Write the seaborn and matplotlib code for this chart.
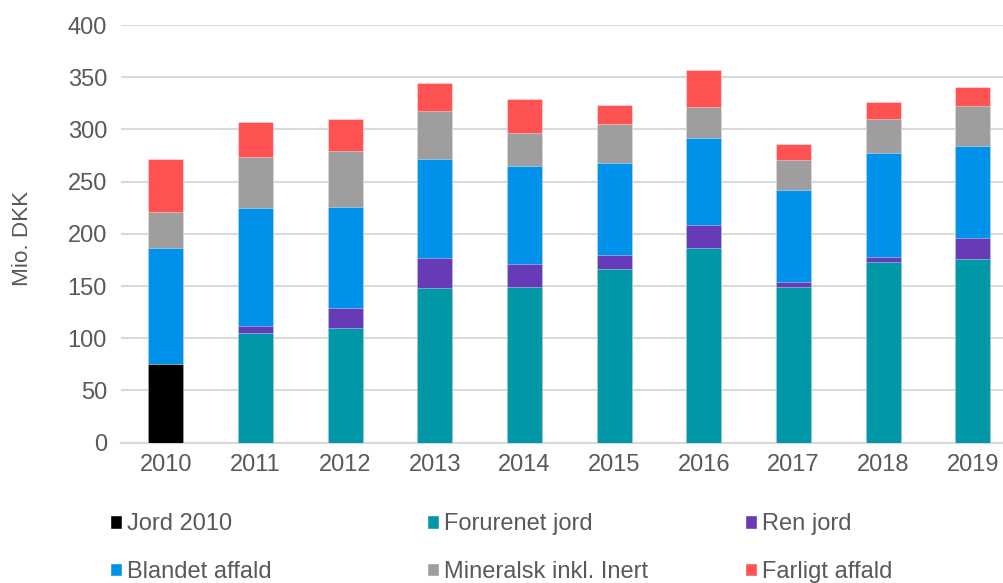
import numpy as np
import pandas as pd
import matplotlib
matplotlib.use("Agg")
import matplotlib.pyplot as plt
import seaborn as sns
from matplotlib.patches import Patch

# values (Mio. DKK)
years = ["2010", "2011", "2012", "2013", "2014", "2015", "2016", "2017", "2018", "2019"]
jord_2010 = [75, 0, 0, 0, 0, 0, 0, 0, 0, 0]
forurenet_jord = [0, 105, 110, 148.5, 149.5, 166.5, 186, 149, 173, 176]
ren_jord = [0, 7, 19, 28, 21.5, 13.5, 22, 5, 5, 20]
blandet_affald = [111, 113, 97, 95, 94, 87.5, 84, 88, 99, 88]
mineralsk = [35, 49, 53, 46, 32, 37.5, 29.5, 29, 33, 38]
farligt_affald = [51, 33, 31, 26.5, 32.5, 18, 35, 15, 16, 19]

labels = ["Jord 2010", "Forurenet jord", "Ren jord",
          "Blandet affald", "Mineralsk inkl. Inert", "Farligt affald"]
colors = ["#000000", "#0097A7", "#673AB7", "#0091EA", "#9E9E9E", "#FF5252"]
series = [jord_2010, forurenet_jord, ren_jord, blandet_affald, mineralsk, farligt_affald]

sns.set_style("white")
plt.rcParams["font.family"] = ["Liberation Sans", "DejaVu Sans"]
txt = "#595959"

# cumulative totals so each segment can be drawn back to front
cum = np.cumsum(np.array(series, dtype=float), axis=0)
df = pd.DataFrame(cum.T, columns=labels)
df["year"] = years

fig = plt.figure(figsize=(10.04, 5.83), dpi=100)
ax = fig.add_axes([121 / 1004, (583 - 442.7) / 583, 1 - 121 / 1004, (442.7 - 25) / 583])

for lab, col in reversed(list(zip(labels, colors))):
    sns.barplot(data=df, x="year", y=lab, color=col, width=0.39, ax=ax,
                saturation=1, edgecolor=(1, 1, 1, 0.45), linewidth=0.6, zorder=3)

ax.set_xlim(-0.5, 9.346)
ax.set_ylim(0, 400)
ax.set_yticks(range(0, 401, 50))
ax.yaxis.grid(True, color="#D9D9D9", linewidth=1.5, zorder=0)
ax.set_axisbelow(True)
for s in ["left", "right", "top"]:
    ax.spines[s].set_visible(False)
ax.spines["bottom"].set_color("#D9D9D9")
ax.spines["bottom"].set_linewidth(1.5)
ax.tick_params(axis="both", length=0, labelsize=17, colors=txt, pad=10)
ax.tick_params(axis="x", pad=8)
ax.set_xlabel("")
ax.set_ylabel("Mio. DKK", fontsize=16.2, color=txt)
ax.yaxis.set_label_coords(-(121 - 33) / (1004 - 121), (442.7 - 238) / (442.7 - 25))

# legend: three columns laid out row-wise like the reference
col_x = [110 / 1004, 427 / 1004, 745 / 1004]
for i, x in enumerate(col_x):
    handles = [Patch(facecolor=colors[i], label=labels[i]),
               Patch(facecolor=colors[i + 3], label=labels[i + 3])]
    fig.legend(handles=handles, loc="upper left", bbox_to_anchor=(x, 1 - 513 / 583),
               frameon=False, fontsize=17, labelcolor=txt, handlelength=0.52,
               handleheight=0.52, handletextpad=0.2, labelspacing=1.1,
               borderpad=0, borderaxespad=0)

fig.savefig("out.png", dpi=100)
